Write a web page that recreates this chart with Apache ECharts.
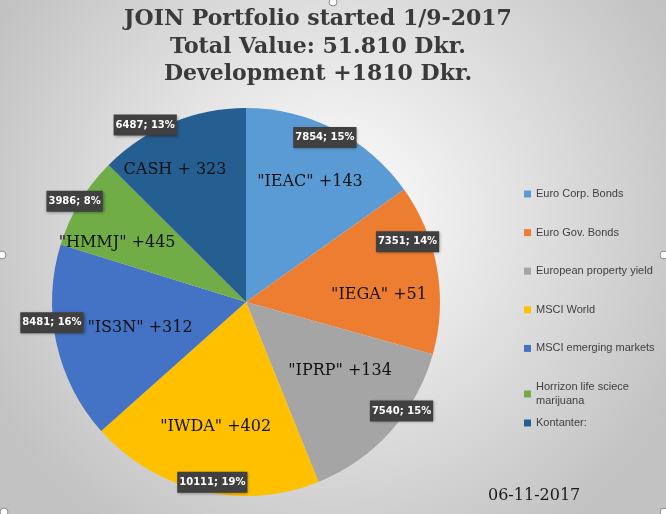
<!DOCTYPE html>
<html>
<head>
<meta charset="utf-8">
<script src="https://cdn.jsdelivr.net/npm/echarts@6/dist/echarts.min.js"></script>
<style>
  html, body { margin: 0; padding: 0; }
  #chart { width: 666px; height: 514px; }
</style>
</head>
<body>
<div id="chart"></div>
<script>
const categories = ['Euro Corp. Bonds', 'Euro Gov. Bonds', 'European property yield', 'MSCI World', 'MSCI emerging markets', 'Horrizon life sciece marijuana', 'Kontanter:'];
const values = [7854, 7351, 7540, 10111, 8481, 3986, 6487];
const sliceLabels = ['"IEAC" +143', '"IEGA" +51', '"IPRP" +134', '"IWDA" +402', '"IS3N" +312', '"HMMJ" +445', 'CASH + 323'];
const colors = ['#5B9BD5', '#ED7D31', '#A5A5A5', '#FFC000', '#4472C4', '#70AD47', '#255E91'];
const titleLines = ['JOIN Portfolio started 1/9-2017', 'Total Value: 51.810 Dkr.', 'Development +1810 Dkr.'];
const dateText = '06-11-2017';

// small label nudges (Excel "best fit" placement), applied on top of the pie layout
const nameNudge = [[3, -2], [2, 16], [-5, -20], [0, -5], [24, -2], [-15, 9], [-20, -9]];
const boxNudge = [[-7, 2], [-23, -28], [16, -16], [9, -2], [-11, -19], [-11, -4], [-29, -4]];

const chart = echarts.init(document.getElementById('chart'));

const pieCenter = [246, 302];
const pieRadius = 194;

const pieData = categories.map((name, i) => ({ name: name, value: values[i], itemStyle: { color: colors[i] } }));
const ghostData = categories.map((name, i) => ({ name: name, value: values[i] }));

const legendText = {
  fontFamily: 'Liberation Sans',
  fontSize: 11,
  color: '#404040',
  lineHeight: 14
};

const handle = (x, y) => ({
  type: 'circle',
  shape: { cx: x, cy: y, r: 4 },
  style: { fill: '#fff', stroke: '#8a8a8a', lineWidth: 1 },
  silent: true
});

const option = {
  backgroundColor: new echarts.graphic.RadialGradient(0.5, 0.42, 0.75, [
    { offset: 0, color: '#ffffff' },
    { offset: 1, color: '#c2c2c2' }
  ]),
  animation: false,
  title: [
    {
      text: titleLines.join('\n'),
      left: 313,
      top: 1,
      textAlign: 'center',
      textStyle: {
        fontFamily: 'DejaVu Serif',
        fontWeight: 'bold',
        fontSize: 22,
        lineHeight: 27.5,
        color: '#3a3a3a'
      }
    },
    {
      text: dateText,
      left: 483,
      top: 483,
      textStyle: {
        fontFamily: 'DejaVu Serif',
        fontWeight: 'normal',
        fontSize: 16,
        color: '#1a1a1a'
      }
    }
  ],
  legend: [
    {
      orient: 'vertical',
      left: 519,
      top: 182,
      padding: 5,
      itemWidth: 7,
      itemHeight: 7,
      itemGap: 24.6,
      icon: 'rect',
      data: categories.slice(0, 6),
      formatter: name => name.replace('sciece ', 'sciece\n'),
      textStyle: legendText
    },
    {
      orient: 'vertical',
      left: 519,
      top: 411,
      padding: 5,
      itemWidth: 7,
      itemHeight: 7,
      icon: 'rect',
      data: categories.slice(6),
      textStyle: legendText
    }
  ],
  graphic: [handle(333, 2), handle(2, 255), handle(664, 255), handle(4, 512), handle(664, 512)],
  series: [
    {
      type: 'pie',
      center: pieCenter,
      radius: pieRadius,
      startAngle: 90,
      clockwise: true,
      silent: true,
      label: { show: false },
      labelLine: { show: false },
      data: pieData
    },
    {
      // slice name labels, placed at ~0.67 of the radius
      type: 'pie',
      center: pieCenter,
      radius: pieRadius * 1.34,
      startAngle: 90,
      silent: true,
      itemStyle: { color: 'rgba(0,0,0,0)' },
      label: {
        show: true,
        position: 'inside',
        formatter: p => sliceLabels[p.dataIndex],
        fontFamily: 'DejaVu Serif',
        fontSize: 16,
        color: '#111'
      },
      labelLayout: p => ({ hideOverlap: false, dx: nameNudge[p.dataIndex][0], dy: nameNudge[p.dataIndex][1] }),
      labelLine: { show: false },
      data: ghostData
    },
    {
      // value; percent boxes near the rim
      type: 'pie',
      center: pieCenter,
      radius: pieRadius * 1.9,
      startAngle: 90,
      silent: true,
      percentPrecision: 0,
      itemStyle: { color: 'rgba(0,0,0,0)' },
      label: {
        show: true,
        position: 'inside',
        formatter: '{c}; {d}%',
        fontFamily: 'DejaVu Sans',
        fontWeight: 'bold',
        fontSize: 10,
        lineHeight: 12,
        color: '#ffffff',
        backgroundColor: '#404040',
        padding: [5, 2, 4, 2],
        shadowBlur: 3,
        shadowOffsetX: 1,
        shadowOffsetY: 1,
        shadowColor: 'rgba(0,0,0,0.4)'
      },
      labelLayout: p => ({ hideOverlap: false, dx: boxNudge[p.dataIndex][0], dy: boxNudge[p.dataIndex][1] }),
      labelLine: { show: false },
      data: ghostData
    }
  ]
};

chart.setOption(option);
</script>
</body>
</html>
